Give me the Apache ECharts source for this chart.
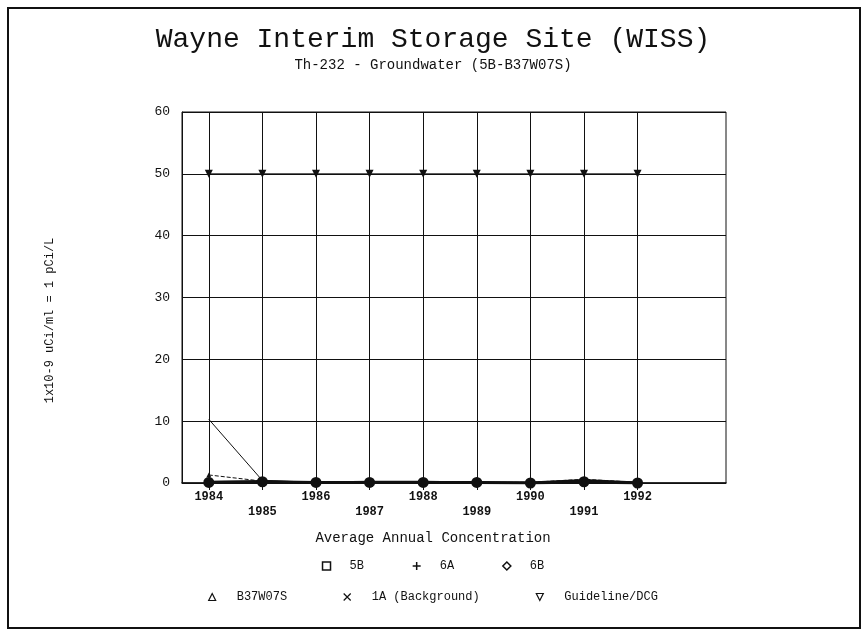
<!DOCTYPE html>
<html>
<head>
<meta charset="utf-8">
<script src="https://cdn.jsdelivr.net/npm/echarts@6/dist/echarts.min.js"></script>
<style>
  html, body { margin: 0; padding: 0; background: #fff; }
  #chart { width: 866px; height: 635px; }
</style>
</head>
<body>
<div id="chart"></div>
<script>
// data
const years = [1984, 1985, 1986, 1987, 1988, 1989, 1990, 1991, 1992]
const yTicks = [0, 10, 20, 30, 40, 50, 60]
const s5B = [0.1, 0.2, 0.1, 0.1, 0.1, 0.1, 0.0, 0.2, 0.0]
const s6A = [0.2, 0.3, 0.1, 0.2, 0.2, 0.1, 0.1, 0.5, 0.1]
const s6B = [0.1, 0.2, 0.1, 0.1, 0.1, 0.1, 0.0, 0.3, 0.0]
const sB37 = [1.3, 0.3, 0.1, 0.2, 0.2, 0.1, 0.1, 0.6, 0.1]
const s1A = [10.3, 0.4, 0.1, 0.2, 0.2, 0.1, 0.0, 0.4, 0.0]
const sDCG = [50, 50, 50, 50, 50, 50, 50, 50, 50]

const mono = 'Liberation Mono'
const ink = '#111'

const pair = arr => arr.map((v, i) => [years[i], v])

const chart = echarts.init(document.getElementById('chart'))

const mkSeries = (name, data, symbol, size, lineStyle) => ({
  name,
  type: 'line',
  data: pair(data),
  symbol,
  symbolSize: size,
  itemStyle: { color: ink },
  lineStyle: Object.assign({ color: ink, width: 1 }, lineStyle || {}),
  emphasis: { disabled: true },
  animation: false
})

const option = {
  backgroundColor: '#fff',
  title: [
    {
      text: 'Wayne Interim Storage Site (WISS)',
      left: 'center',
      top: 21,
      textStyle: { fontFamily: mono, fontSize: 28, fontWeight: 'normal', color: ink }
    },
    {
      text: 'Th-232 - Groundwater (5B-B37W07S)',
      left: 'center',
      top: 53,
      textStyle: { fontFamily: mono, fontSize: 14, fontWeight: 'normal', color: ink }
    },
    {
      text: 'Average Annual Concentration',
      left: 'center',
      top: 526,
      textStyle: { fontFamily: mono, fontSize: 14, fontWeight: 'normal', color: ink }
    }
  ],
  graphic: [
    {
      type: 'rect',
      shape: { x: 8, y: 8, width: 852, height: 620 },
      style: { fill: 'none', stroke: ink, lineWidth: 2 },
      silent: true
    }
  ],
  grid: {
    left: 182,
    right: 140,
    top: 112,
    bottom: 152,
    show: true,
    borderColor: ink,
    borderWidth: 1,
    backgroundColor: 'transparent'
  },
  xAxis: {
    type: 'value',
    min: 1983.5,
    max: 1993.65,
    axisLine: { show: true, lineStyle: { color: ink, width: 1.5 } },
    axisTick: { show: true, customValues: years, length: 7, lineStyle: { color: ink } },
    axisLabel: {
      customValues: years,
      margin: 6,
      fontFamily: mono,
      fontSize: 12,
      fontWeight: 'bold',
      color: ink,
      lineHeight: 15,
      formatter: v => (v % 2 === 1 ? '\n' + v : '' + v)
    },
    splitLine: { show: true, lineStyle: { color: ink, width: 1 } }
  },
  yAxis: {
    type: 'value',
    min: 0,
    max: 60,
    interval: 10,
    name: '1x10-9 uCi/ml = 1 pCi/L',
    nameLocation: 'middle',
    nameGap: 126,
    nameTextStyle: { fontFamily: mono, fontSize: 12, color: ink, padding: [0, 46, 0, 0] },
    axisLine: { show: true, lineStyle: { color: ink } },
    axisTick: { show: false },
    axisLabel: {
      margin: 12,
      fontFamily: mono,
      fontSize: 13,
      color: ink,
      formatter: v => (yTicks.includes(v) ? '' + v : '')
    },
    splitLine: { show: true, lineStyle: { color: ink, width: 1 } }
  },
  legend: [
    {
      top: 555,
      left: 'center',
      itemWidth: 8,
      itemHeight: 8,
      itemGap: 48,
      selectedMode: false,
      textStyle: { fontFamily: mono, fontSize: 12, color: ink, padding: [0, 0, 0, 14] },
      itemStyle: { color: 'transparent', borderColor: ink, borderWidth: 1.5 },
      data: [
        { name: '5B', icon: 'path://M0,0H10V10H0Z' },
        { name: '6A', icon: 'path://M5,0V10M0,5H10' },
        { name: '6B', icon: 'path://M5,0L10,5L5,10L0,5Z' }
      ]
    },
    {
      top: 586,
      left: 'center',
      itemWidth: 7,
      itemHeight: 7,
      itemGap: 56,
      selectedMode: false,
      textStyle: { fontFamily: mono, fontSize: 12, color: ink, padding: [0, 0, 0, 16] },
      itemStyle: { color: 'transparent', borderColor: ink, borderWidth: 1.2 },
      data: [
        { name: 'B37W07S', icon: 'path://M5,0L10,10L0,10Z' },
        { name: '1A (Background)', icon: 'path://M0,0L10,10M10,0L0,10' },
        { name: 'Guideline/DCG', icon: 'path://M0,0L10,0L5,10Z' }
      ]
    }
  ],
  series: [
    mkSeries('5B', s5B, 'circle', 11, { width: 3 }),
    mkSeries('6A', s6A, 'path://M5,0V10M0,5H10', 6, { width: 2 }),
    mkSeries('6B', s6B, 'diamond', 6, { width: 2 }),
    mkSeries('B37W07S', sB37, 'triangle', 5, { type: 'dashed', width: 1 }),
    mkSeries('1A (Background)', s1A, 'path://M0,0L10,10M10,0L0,10', 6, { width: 1 }),
    mkSeries('Guideline/DCG', sDCG, 'path://M0,0L10,0L5,9Z', 8, { width: 1 })
  ]
}

chart.setOption(option)
</script>
</body>
</html>
